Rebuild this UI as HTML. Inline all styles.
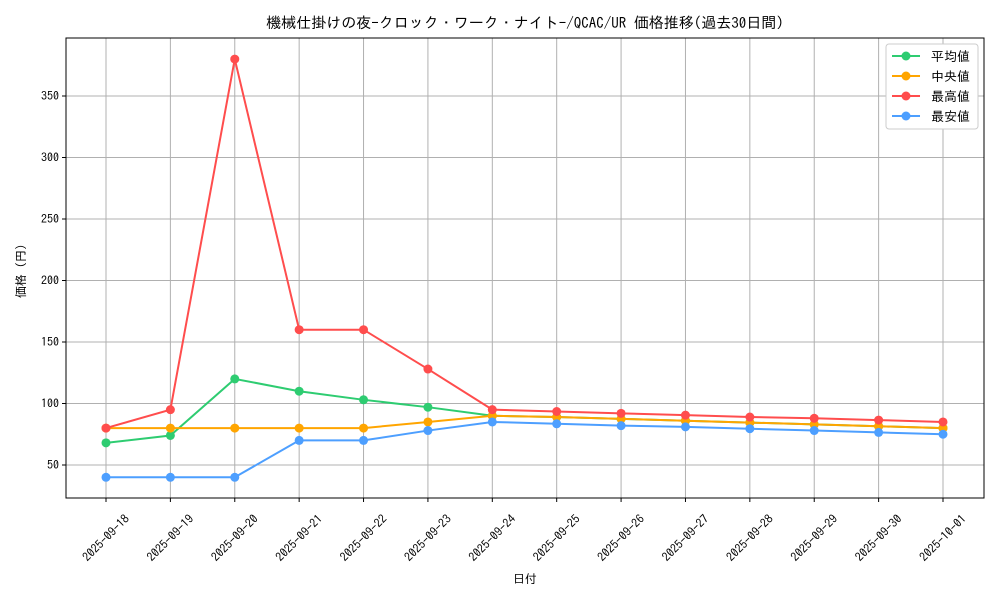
<!DOCTYPE html>
<html><head><meta charset="utf-8"><style>
body{margin:0;background:#fff;font-family:"IPAGothic","Liberation Sans",sans-serif;}
svg text{font-family:"IPAGothic","Liberation Sans",sans-serif;fill:#000;}
</style></head><body>
<svg id="chart" width="1000" height="600" xmlns="http://www.w3.org/2000/svg"></svg>
<script>
const dates=["2025-09-18","2025-09-19","2025-09-20","2025-09-21","2025-09-22","2025-09-23","2025-09-24","2025-09-25","2025-09-26","2025-09-27","2025-09-28","2025-09-29","2025-09-30","2025-10-01"];
const avgVals=[68,74,120,110,103,97,90,89,87.5,86,84.5,83,81.5,80];
const medVals=[80,80,80,80,80,85,90,89,87.5,86,84.5,83,81.5,80];
const maxVals=[80,95,380,160,160,128,95,93.5,92,90.5,89,88,86.5,85];
const minVals=[40,40,40,70,70,78,85,83.5,82,81,79.5,78,76.5,75];
const yTicks=[50,100,150,200,250,300,350];
const seriesNames=["平均値","中央値","最高値","最安値"];
const colors=["#2ecc71","#ffa500","#ff4d4d","#4d9fff"];
const NS="http://www.w3.org/2000/svg";
const svg=document.getElementById('chart');
const L=66,R=984,T=38,B=498;
const x=i=>106+i*(943-106)/(dates.length-1);
const y=v=>465-(v-50)*1.23;
function mk(tag,attrs,parent){const e=document.createElementNS(NS,tag);for(const k in attrs)e.setAttribute(k,attrs[k]);(parent||svg).appendChild(e);return e;}
const grid=mk('g',{});


dates.forEach((d,i)=>{
  mk('line',{x1:x(i),x2:x(i),y1:T,y2:B,stroke:'#b0b0b0','stroke-width':1},grid);
  mk('line',{x1:x(i),x2:x(i),y1:B,y2:B+4,stroke:'#000'},grid);
  const cx=x(i),cy=B+40;
  const t=mk('text',{x:cx,y:cy+4,'font-size':12,'text-anchor':'middle',transform:`rotate(-45 ${cx} ${cy})`});
  t.textContent=d;
  
  
});
yTicks.forEach(v=>{
  mk('line',{x1:L,x2:R,y1:y(v),y2:y(v),stroke:'#b0b0b0','stroke-width':1},grid);
  mk('line',{x1:L-4,x2:L,y1:y(v),y2:y(v),stroke:'#000'},grid);
  const t=mk('text',{x:L-7,y:y(v)+4,'font-size':12,'text-anchor':'end'});
  t.textContent=v;
  
  
});
[avgVals,medVals,maxVals,minVals].forEach((vals,s)=>{
  const g=mk('g',{});
  
  
  mk('polyline',{points:vals.map((v,i)=>x(i)+','+y(v)).join(' '),fill:'none',stroke:colors[s],'stroke-width':2},g);
  vals.forEach((v,i)=>{const c=mk('circle',{cx:x(i),cy:y(v),r:4.5,fill:colors[s]},g);
    
    });
});
mk('rect',{x:L,y:T,width:R-L,height:B-T,fill:'none',stroke:'#000','stroke-width':1});
const title=mk('text',{x:525,y:28,'font-size':15,'text-anchor':'middle'});
title.textContent="機械仕掛けの夜-クロック・ワーク・ナイト-/QCAC/UR 価格推移(過去30日間)";


const xt=mk('text',{x:525,y:583,'font-size':12,'text-anchor':'middle'});
xt.textContent="日付";


const yt=mk('text',{x:25,y:268,'font-size':12,'text-anchor':'middle',transform:'rotate(-90 25 268)'});
yt.textContent="価格（円）";


const lg=mk('g',{});


mk('rect',{x:886,y:44,width:92,height:85,rx:3,fill:'#fff',stroke:'#ccc'},lg);
seriesNames.forEach((n,s)=>{
  const yy=56+s*20;
  mk('line',{x1:892,x2:920,y1:yy,y2:yy,stroke:colors[s],'stroke-width':2},lg);
  mk('circle',{cx:906,cy:yy,r:4.5,fill:colors[s]},lg);
  const t=mk('text',{x:931,y:yy+5,'font-size':13},lg);
  t.textContent=n;
  
  
});
</script>
</body></html>
